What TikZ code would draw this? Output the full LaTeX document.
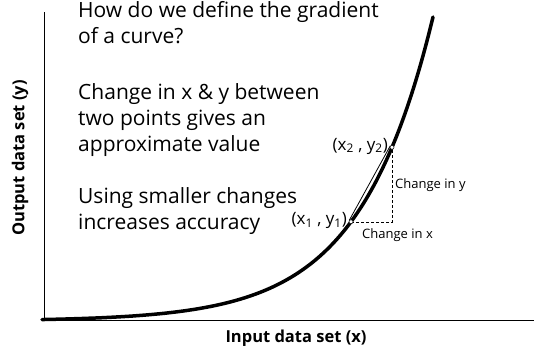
\documentclass[tikz,border=0pt]{standalone}
\usepackage{fontspec}
\setmainfont{Open Sans}
\usepackage{tikz}
\usetikzlibrary{arrows.meta,positioning,calc}
\usepackage{xcolor}

\begin{document}
\begin{tikzpicture}[x=1pt, y=-1pt,
  body/.style={anchor=base west, align=left, inner sep=0pt,
               font=\fontsize{21}{26}\selectfont},
  axlbl/.style={inner sep=0pt, font=\fontsize{16.5}{18}\selectfont\bfseries},
  ptlbl/.style={inner sep=0pt, font=\fontsize{17}{18}\selectfont},
  dlbl/.style={inner sep=0pt, font=\fontsize{13}{15}\selectfont},
  pt/.style={circle, draw=black, fill=white, line width=0.5pt, inner sep=0pt,
             minimum size=4pt}]
\useasboundingbox (0,0) rectangle (534,349);
\coordinate (o) at (44,320);
\coordinate (ytop) at (44,12);
\coordinate (xend) at (534,320);
\draw[line width=0.8pt] (ytop) -- (o) -- (xend);
\draw[line width=3.5pt, line cap=round] plot[smooth, domain=42:433, samples=80]
  (\x, {321-304*exp(0.01365*(\x-433))});
\coordinate (p1) at (351,{321-304*exp(0.01365*(351-433))});
\coordinate (p2) at (392,{321-304*exp(0.01365*(392-433))});
\draw[line width=0.8pt] ([xshift=-1.8pt,yshift=1.4pt]p1) -- ([xshift=-1.8pt,yshift=1.4pt]p2);
\draw[line width=0.5pt, dash pattern=on 3pt off 2pt] (p1) -| (p2);
\node[pt] (c1) at (p1) {};
\node[pt] (c2) at (p2) {};
\node[ptlbl, anchor=base east] (l2) at ([xshift=-4pt,yshift=-3pt]p2) {(x\textsubscript{2} , y\textsubscript{2})};
\node[ptlbl, anchor=base east] (l1) at ([xshift=-4pt,yshift=-3pt]p1) {(x\textsubscript{1} , y\textsubscript{1})};
\node[dlbl, anchor=base west] (dy) at (395,188) {Change in y};
\node[dlbl, anchor=base west] (dx) at (362,238) {Change in x};
\node[body] (q) at (78,43) {How do we define the gradient\\of a curve?};
\node[body] (t1) at (78,151) {Change in x \& y between\\two points gives an\\approximate value};
\node[body] (t2) at (78,229) {Using smaller changes\\increases accuracy};
\node[axlbl, rotate=90] (ylbl) at (20,158) {Output data set (y)};
\node[axlbl] (xlbl) at (296,338) {Input data set (x)};
\end{tikzpicture}
\end{document}
